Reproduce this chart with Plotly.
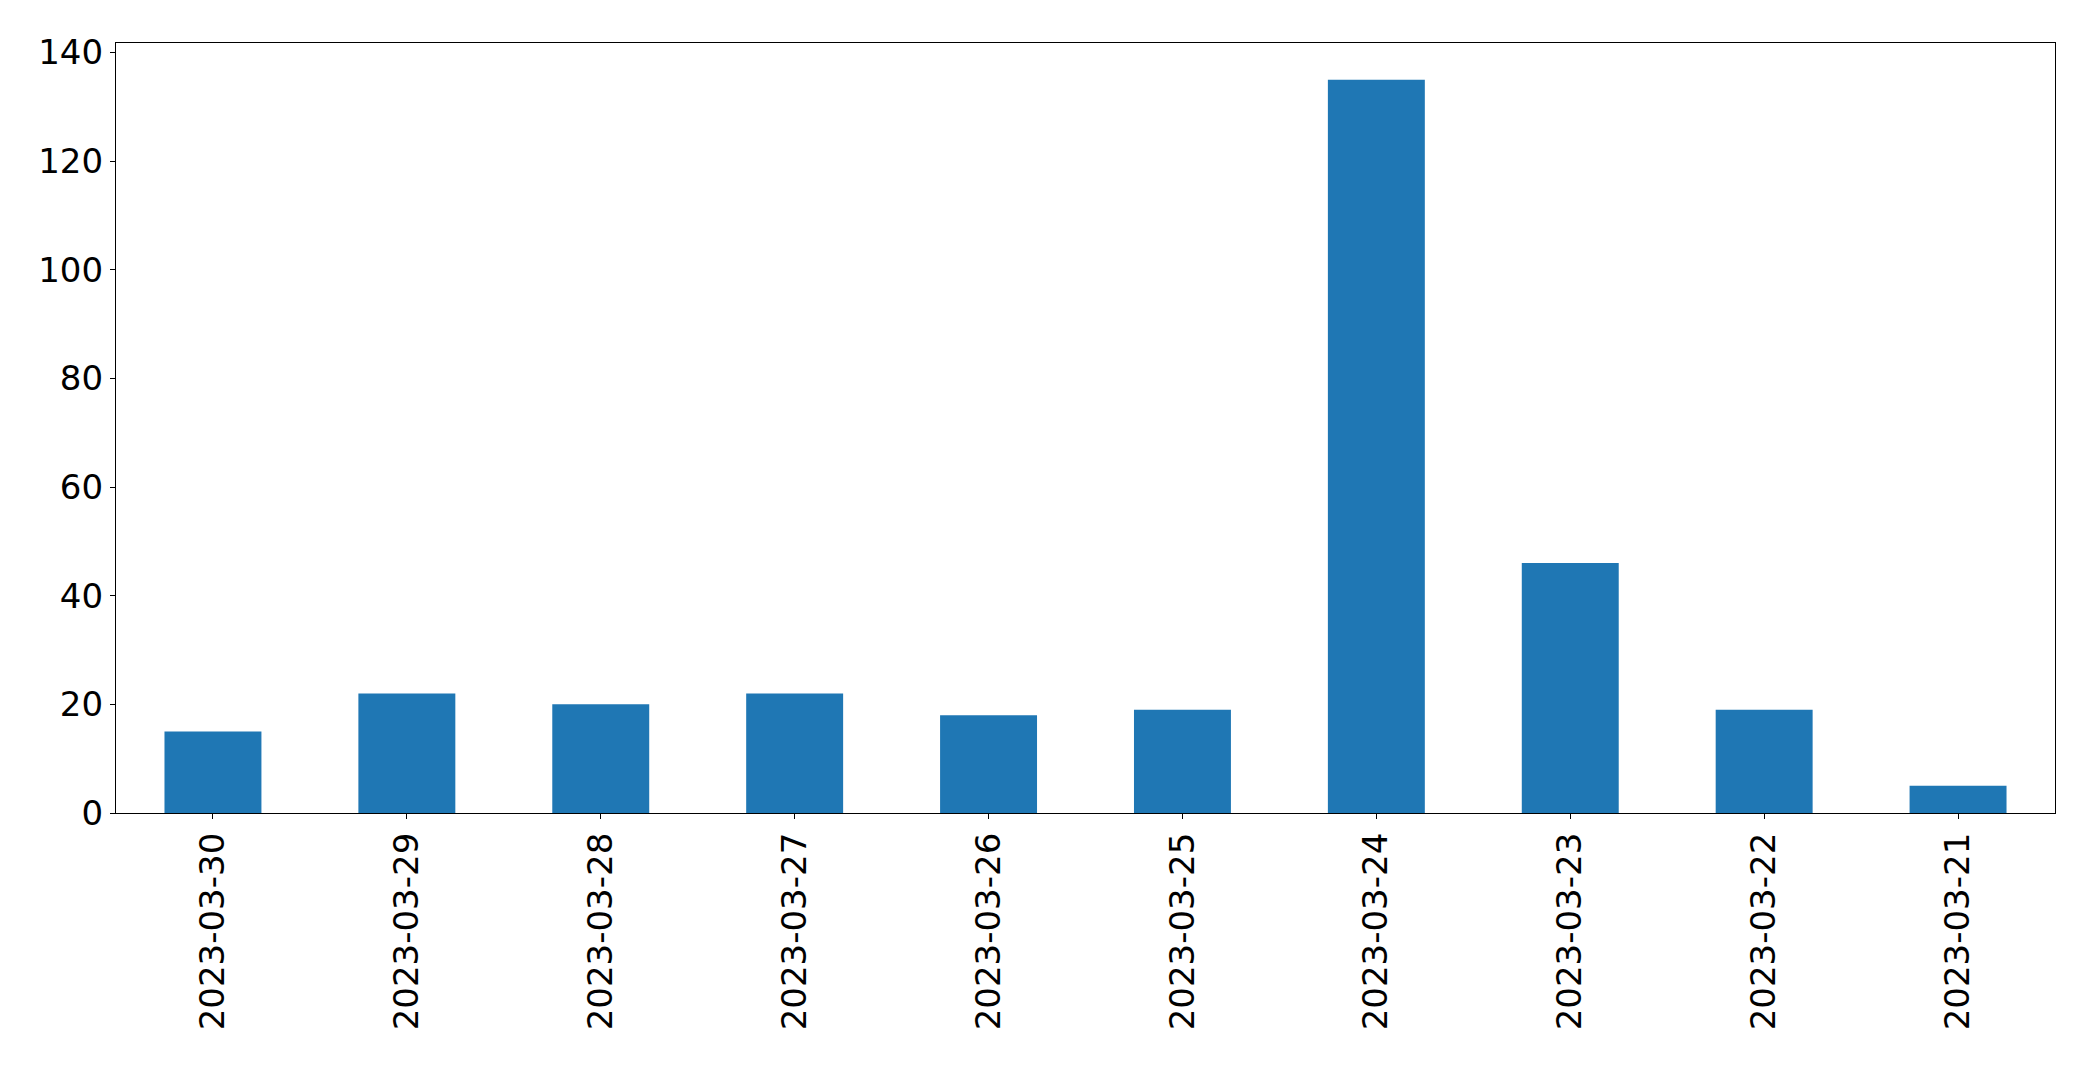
import plotly.graph_objects as go

dates = ["2023-03-30", "2023-03-29", "2023-03-28", "2023-03-27", "2023-03-26",
         "2023-03-25", "2023-03-24", "2023-03-23", "2023-03-22", "2023-03-21"]
counts = [15, 22, 20, 22, 18, 19, 135, 46, 19, 5]
y_ticks = [0, 20, 40, 60, 80, 100, 120, 140]

fig = go.Figure(go.Bar(x=dates, y=counts, marker=dict(color="#1f77b4", line=dict(width=0)), width=0.5))

font = dict(family="DejaVu Sans", size=34, color="black")
fig.update_layout(
    width=2093, height=1065,
    margin=dict(l=108, r=46, t=35, b=260, autoexpand=False),
    paper_bgcolor="white", plot_bgcolor="white",
    showlegend=False,
    font=font,
)
fig.update_xaxes(type="category", range=[-0.5, 9.5], tickangle=-90, automargin=False,
                 showline=True, linecolor="black", linewidth=1.3, mirror=True,
                 ticks="outside", ticklen=5, tickwidth=1.3, tickcolor="black",
                 showgrid=False, tickfont=font)
fig.update_yaxes(range=[0, 141.75], tickvals=y_ticks, automargin=False,
                 showline=True, linecolor="black", linewidth=1.3, mirror=True,
                 ticks="outside", ticklen=5, tickwidth=1.3, tickcolor="black",
                 showgrid=False, zeroline=False, tickfont=font)

fig.write_html("out.html")
